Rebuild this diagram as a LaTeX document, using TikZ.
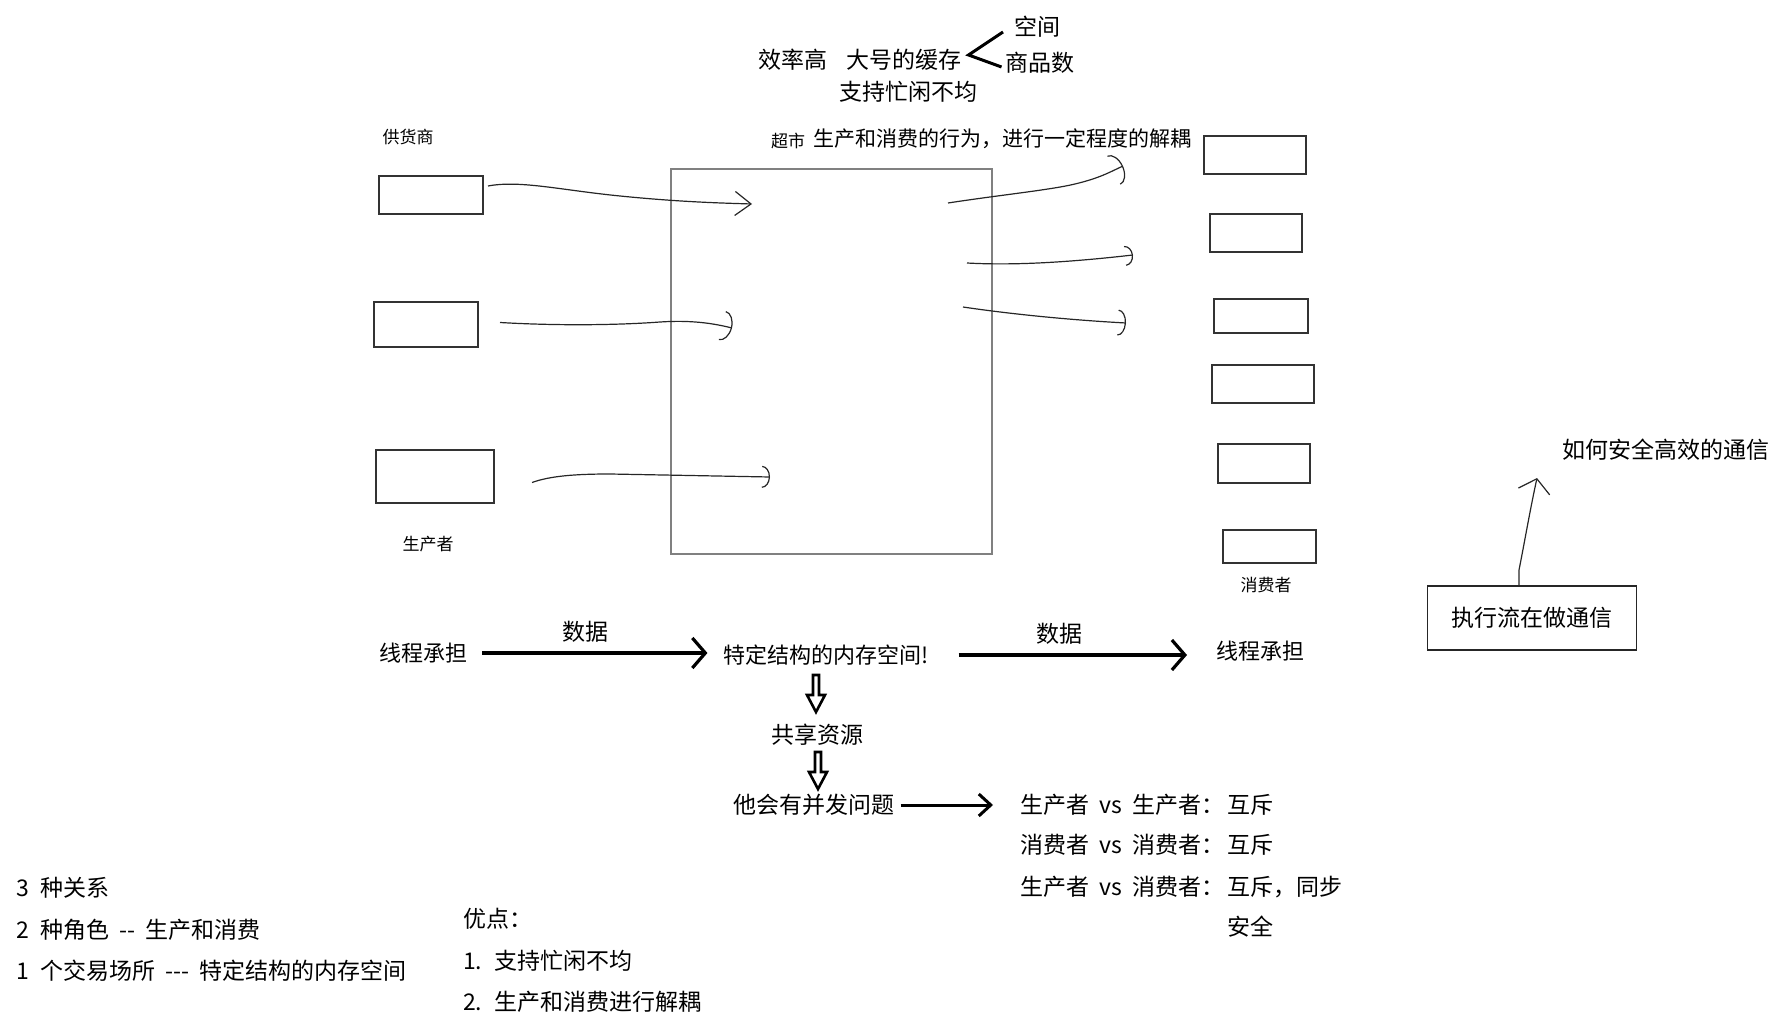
\documentclass[tikz,border=0pt]{standalone}
\usepackage{fontspec}
\setmainfont{Noto Sans CJK SC}
\usepackage{tikz}
\usetikzlibrary{positioning,arrows.meta}
\newcommand\widespace{\spaceskip 0.45em\relax}

\begin{document}
\begin{tikzpicture}[
    x=0.5pt, y=-0.5pt,
    every node/.style={inner sep=0pt, outer sep=0pt},
    note/.style={font={\fontsize{11.5pt}{14pt}\selectfont\widespace}},
    mid/.style={font=\fontsize{11pt}{13pt}\selectfont},
    tag/.style={font=\fontsize{8.5pt}{10pt}\selectfont},
    slot/.style={rectangle, draw=black!80, line width=0.6pt},
    market/.style={rectangle, draw=black!50, line width=0.7pt, minimum width=160.5pt, minimum height=192.5pt},
    sketch/.style={line width=0.6pt, draw=black!85},
    flow/.style={line width=1.6pt, -{Straight Barb[length=6.5pt,width=15pt]}},
    fatdown/.pic={\draw [line width=1.3pt, line join=miter] (-3,0) -- (-3,20) -- (-9,20) -- (0,37) -- (9,20) -- (3,20) -- (3,0) -- cycle;}
]
    \useasboundingbox (0,0) rectangle (1788,1016);

    % top notes
    \node (eff) [note] at (793,60) {效率高};
    \node (cache) [note] at (904,60) {大号的缓存};
    \node (idle) [note] at (908,92) {支持忙闲不均};
    \node (space) [note] at (1037,27) {空间};
    \node (goods) [note] at (1040,63) {商品数};
    \draw [line width=1.5pt] ([shift={(-11,5)}]space.west) -- ([shift={(7,-5)}]cache.east) -- ([shift={(-4,4)}]goods.west);

    % supermarket
    \node (marketname) [tag] at (788,141) {超市};
    \node (decouple) [font=\fontsize{10.5pt}{12pt}\selectfont, anchor=west] at (813,139) {生产和消费的行为，进行一定程度的解耦};
    \node (shop) [market] at (831.5,361.5) {};

    % suppliers
    \node (supplier) [tag] at (408,137) {供货商};
    \node (prod1) [slot, minimum width=52pt, minimum height=19pt] at (431,195) {};
    \node (prod2) [slot, minimum width=52pt, minimum height=22.5pt] at (426,324.5) {};
    \node (prod3) [slot, minimum width=59pt, minimum height=26.5pt] at (435,476.5) {};
    \node (producer) [tag] at (428,544) {生产者};

    % consumers
    \node (cons1) [slot, minimum width=51pt, minimum height=19pt] at (1255,155) {};
    \node (cons2) [slot, minimum width=46pt, minimum height=19pt] at (1256,233) {};
    \node (cons3) [slot, minimum width=47pt, minimum height=17pt] at (1261,316) {};
    \node (cons4) [slot, minimum width=51pt, minimum height=19pt] at (1263,384) {};
    \node (cons5) [slot, minimum width=46pt, minimum height=19.5pt] at (1264,463.5) {};
    \node (cons6) [slot, minimum width=46.5pt, minimum height=16.5pt] at (1269.5,546.5) {};
    \node (consumer) [tag] at (1266,585) {消费者};

    \coordinate (in1) at (752,204);
    \coordinate (in2) at (732,328);
    \coordinate (in3) at (770,477);
    \coordinate (bs1) at (948,203);
    \coordinate (bt1) at (1123,166);
    \coordinate (bs2) at (967,263);
    \coordinate (bt2) at (1133,255);
    \coordinate (bs3) at (963,307);
    \coordinate (bt3) at (1126,323);

    \draw [sketch, -{Straight Barb[length=8pt,width=12pt]}] ([shift={(5,-9)}]prod1.east) .. controls (520,180) and (560,190) .. (620,196) .. controls (680,202) and (720,203) .. (in1);
    \draw [sketch, -{Arc Barb[length=5pt,width=15pt]}] ([shift={(22,-2)}]prod2.east) .. controls (560,326) and (620,325) .. (660,322) .. controls (690,320) and (712,323) .. (in2);
    \draw [sketch, -{Arc Barb[length=4pt,width=11pt]}] ([shift={(38,6)}]prod3.east) .. controls (550,476) and (575,474) .. (610,474) -- (in3);
    \draw [sketch, -{Arc Barb[length=5pt,width=16pt]}] (bs1) .. controls (1000,195) and (1050,190) .. (1075,184) .. controls (1100,178) and (1110,172) .. (bt1);
    \draw [sketch, -{Arc Barb[length=4pt,width=10pt]}] (bs2) .. controls (1020,266) and (1080,261) .. (bt2);
    \draw [sketch, -{Arc Barb[length=4pt,width=13pt]}] (bs3) .. controls (1010,314) and (1070,320) .. (bt3);

    % data flow
    \node (threadL) [mid] at (423,653) {线程承担};
    \node (memspace) [mid] at (826,655) {特定结构的内存空间!};
    \node (threadR) [mid] at (1260,651) {线程承担};
    \node (data1) [note] at (585,632) {数据};
    \node (data2) [note] at (1059,634) {数据};
    \draw [flow, shorten <=7.5pt, shorten >=8pt] (threadL.east) -- (threadL.east -| memspace.west);
    \draw [flow, shorten <=15pt, shorten >=14.5pt] (memspace.east) -- (memspace.east -| threadR.west);

    \node (shared) [note] at (817,735) {共享资源};
    \node (issue) [note] at (814,805) {他会有并发问题};
    \pic at (816,675) {fatdown};
    \pic at (818,752) {fatdown};

    \node (pp) [note, anchor=west] at (1020,805) {生产者 vs 生产者：};
    \node (ppr) [note, anchor=west] at (1227,805) {互斥};
    \node (cc) [note, anchor=west] at (1020,845) {消费者 vs 消费者：};
    \node (ccr) [note, anchor=west] at (1227,845) {互斥};
    \node (pc) [note, anchor=west] at (1020,887) {生产者 vs 消费者：};
    \node (pcr) [note, anchor=west] at (1227,887) {互斥，同步};
    \node (safe) [note, anchor=west] at (1227,927) {安全};
    \draw [line width=1.5pt, -{Straight Barb[length=6pt,width=11pt]}, shorten <=3pt, shorten >=13.5pt] (issue.east) -- (issue.east -| pp.west);

    % summary
    \node (rel3) [note, anchor=west] at (17,888) {3 种关系};
    \node (role2) [note, anchor=west] at (17,930) {2 种角色 -\kern0pt- 生产和消费};
    \node (place1) [note, anchor=west] at (17,971) {1 个交易场所 -\kern0pt-\kern0pt- 特定结构的内存空间};
    \node (merit) [note, anchor=west] at (463,919) {优点：};
    \node (merit1) [note, anchor=west] at (463,961) {1. 支持忙闲不均};
    \node (merit2) [note, anchor=west] at (463,1002) {2. 生产和消费进行解耦};

    % communication
    \node (flowbox) [note, draw=black!85, line width=0.6pt, minimum width=104.5pt, minimum height=32pt] at (1532,618) {执行流在做通信};
    \node (howto) [note, anchor=west] at (1562,450) {如何安全高效的通信};
    \coordinate (asktip) at (1537,478);
    \draw [sketch, -{Straight Barb[length=6.5pt,width=16pt]}] ([xshift=-6.5pt]flowbox.north) -- ++(0,-16) .. controls (1524,545) and (1530,510) .. (asktip);
\end{tikzpicture}
\end{document}
